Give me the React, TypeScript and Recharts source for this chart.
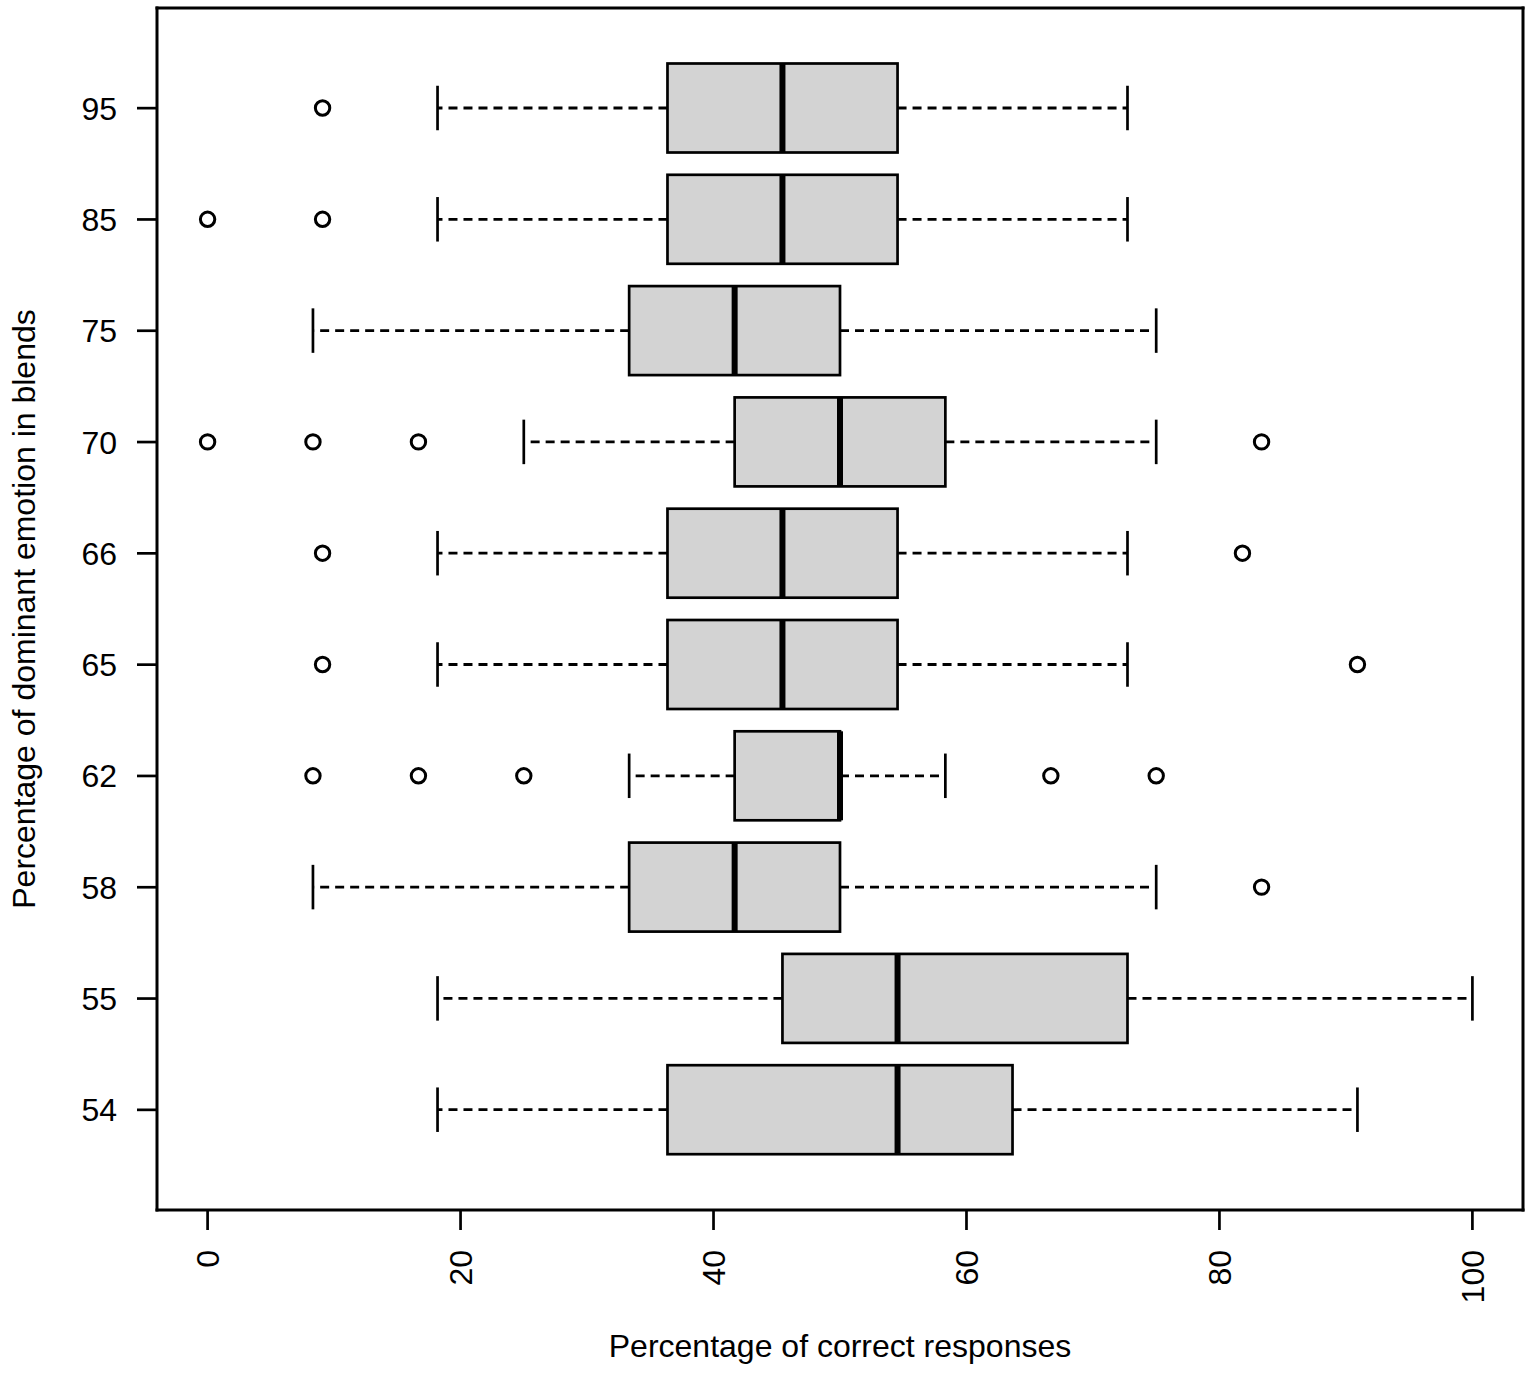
import React from 'react';
import { ComposedChart, Bar, XAxis, YAxis } from 'recharts';

const categories = ['95', '85', '75', '70', '66', '65', '62', '58', '55', '54'];
const lowWhisker = [18.18, 18.18, 8.33, 25, 18.18, 18.18, 33.33, 8.33, 18.18, 18.18];
const q1Values = [36.36, 36.36, 33.33, 41.67, 36.36, 36.36, 41.67, 33.33, 45.45, 36.36];
const medianValues = [45.45, 45.45, 41.67, 50, 45.45, 45.45, 50, 41.67, 54.55, 54.55];
const q3Values = [54.55, 54.55, 50, 58.33, 54.55, 54.55, 50, 50, 72.73, 63.64];
const highWhisker = [72.73, 72.73, 75, 75, 72.73, 72.73, 58.33, 75, 100, 90.91];
const outlierValues = [
  [9.09],
  [0, 9.09],
  [],
  [0, 8.33, 16.67, 83.33],
  [9.09, 81.82],
  [9.09, 90.91],
  [8.33, 16.67, 25, 66.67, 75],
  [83.33],
  [],
  [],
];
const xTicks = [0, 20, 40, 60, 80, 100];

const data = categories.map((cat, i) => ({
  cat,
  low: lowWhisker[i],
  q1: q1Values[i],
  med: medianValues[i],
  q3: q3Values[i],
  high: highWhisker[i],
  out: outlierValues[i],
  range: [lowWhisker[i], highWhisker[i]],
}));

const FONT = '"Liberation Sans", Arial, Helvetica, sans-serif';
const FS = 32;
const LW = 2.7;

const BoxShape = (props: any) => {
  const { x, y, width, height } = props;
  const d = props.payload ?? props;
  const sx = (v: number) => x + ((v - d.low) / (d.high - d.low)) * width;
  const cy = y + height / 2;
  const capHalf = height / 4;
  const dash = '9 6';
  return (
    <g>
      <line x1={sx(d.q1)} x2={sx(d.low)} y1={cy} y2={cy} stroke="#000" strokeWidth={2.8} strokeDasharray={dash} />
      <line x1={sx(d.q3)} x2={sx(d.high)} y1={cy} y2={cy} stroke="#000" strokeWidth={2.8} strokeDasharray={dash} />
      <line x1={sx(d.low)} x2={sx(d.low)} y1={cy - capHalf} y2={cy + capHalf} stroke="#000" strokeWidth={LW} />
      <line x1={sx(d.high)} x2={sx(d.high)} y1={cy - capHalf} y2={cy + capHalf} stroke="#000" strokeWidth={LW} />
      <rect x={sx(d.q1)} y={y} width={sx(d.q3) - sx(d.q1)} height={height} fill="#d3d3d3" stroke="#000" strokeWidth={LW} />
      <line x1={sx(d.med)} x2={sx(d.med)} y1={y} y2={y + height} stroke="#000" strokeWidth={6} />
      {(d.out || []).map((v: number, k: number) => (
        <circle key={k} cx={sx(v)} cy={cy} r={7.2} fill="none" stroke="#000" strokeWidth={3} />
      ))}
    </g>
  );
};

const XTick = (props: any) => {
  const { x, y, payload } = props;
  return (
    <text
      transform={`translate(${x},${y}) rotate(-90)`}
      textAnchor="end"
      dy="0.36em"
      fontFamily={FONT}
      fontSize={FS}
      fill="#000"
    >
      {payload.value}
    </text>
  );
};

const YTick = (props: any) => {
  const { x, y, payload } = props;
  return (
    <text x={x} y={y} dy="0.36em" textAnchor="end" fontFamily={FONT} fontSize={FS} fill="#000">
      {payload.value}
    </text>
  );
};

const renderXTitle = (props: any) => {
  const vb = props.viewBox || {};
  return (
    <text x={vb.x + vb.width / 2} y={vb.y + 147} textAnchor="middle" fontFamily={FONT} fontSize={FS} fill="#000">
      Percentage of correct responses
    </text>
  );
};

const renderYTitle = (props: any) => {
  const vb = props.viewBox || {};
  const cx = vb.x + 35;
  const cy = vb.y + vb.height / 2;
  return (
    <text
      transform={`translate(${cx},${cy}) rotate(-90)`}
      textAnchor="middle"
      fontFamily={FONT}
      fontSize={FS}
      fill="#000"
    >
      Percentage of dominant emotion in blends
    </text>
  );
};

const frameLine = { stroke: '#000', strokeWidth: 3, strokeLinecap: 'square' as const };
const tickLineStyle = { stroke: '#000', strokeWidth: 2.7 };

export default function App() {
  return (
    <div style={{ position: 'absolute', left: 0, top: 0, width: 1536, height: 1374, background: '#fff' }}>
      <ComposedChart
        width={1536}
        height={1374}
        data={data}
        layout="vertical"
        margin={{ top: 7, right: 12, bottom: 0, left: 0 }}
      >
        <XAxis
          type="number"
          domain={[-4, 104]}
          ticks={xTicks}
          allowDataOverflow
          height={164}
          tickSize={20}
          tickMargin={20}
          tick={XTick}
          tickLine={tickLineStyle}
          axisLine={frameLine}
          label={renderXTitle}
        />
        <XAxis
          xAxisId="top"
          orientation="top"
          type="number"
          domain={[-4, 104]}
          ticks={xTicks}
          allowDataOverflow
          height={1}
          tick={false}
          tickLine={false}
          axisLine={frameLine}
        />
        <YAxis
          type="category"
          dataKey="cat"
          width={157}
          interval={0}
          padding={{ top: 44.5, bottom: 44.5 }}
          tickSize={20}
          tickMargin={20}
          tick={YTick}
          tickLine={tickLineStyle}
          axisLine={frameLine}
          label={renderYTitle}
        />
        <YAxis
          yAxisId="right"
          orientation="right"
          type="category"
          dataKey="cat"
          width={1}
          interval={0}
          padding={{ top: 44.5, bottom: 44.5 }}
          tick={false}
          tickLine={false}
          axisLine={frameLine}
        />
        <Bar dataKey="range" barSize={89} shape={BoxShape} isAnimationActive={false} />
      </ComposedChart>
    </div>
  );
}
